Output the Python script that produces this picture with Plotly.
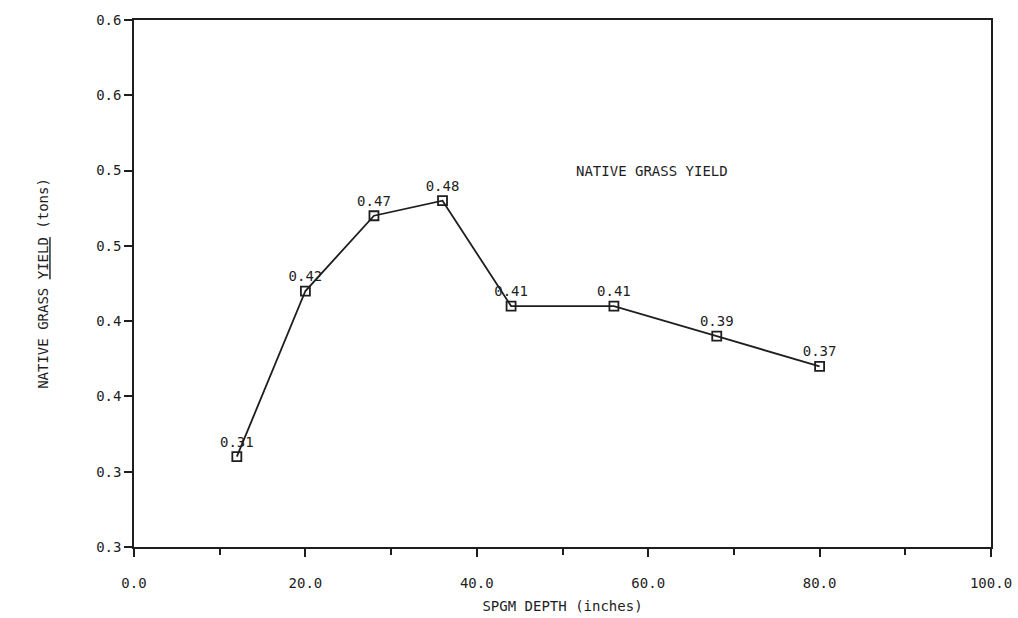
import plotly.graph_objects as go

depth = [12, 20, 28, 36, 44, 56, 68, 80]
yield_tons = [0.31, 0.42, 0.47, 0.48, 0.41, 0.41, 0.39, 0.37]
y_tickvals = [0.25, 0.30, 0.35, 0.40, 0.45, 0.50, 0.55, 0.60]
y_ticktext = ["0.3", "0.3", "0.4", "0.4", "0.5", "0.5", "0.6", "0.6"]
x_tickvals = [0, 20, 40, 60, 80, 100]
x_ticktext = ["0.0", "20.0", "40.0", "60.0", "80.0", "100.0"]

font_family = "DejaVu Sans Mono"
ink = "#1e1e1e"

fig = go.Figure()
fig.add_trace(go.Scatter(
    x=depth, y=yield_tons,
    mode="lines+markers+text",
    line=dict(color=ink, width=1.8),
    marker=dict(symbol="square-open", size=9, color=ink, line=dict(width=1.8, color=ink)),
    text=[f"{v:.2f}" for v in yield_tons],
    textposition="top center",
    textfont=dict(family=font_family, size=14, color=ink),
    cliponaxis=False,
    showlegend=False,
))

fig.add_annotation(
    x=60.5, y=0.50, xref="x", yref="y",
    text="NATIVE GRASS YIELD", showarrow=False,
    font=dict(family=font_family, size=14, color=ink),
)

fig.update_layout(
    width=1018, height=618,
    margin=dict(l=134, r=27, t=20, b=71),
    paper_bgcolor="white", plot_bgcolor="white",
    font=dict(family=font_family, color=ink),
)
fig.update_xaxes(
    range=[0, 100], tickvals=x_tickvals, ticktext=x_ticktext,
    automargin=False,
    ticks="outside", ticklen=8, tickwidth=1.5, tickcolor=ink,
    minor=dict(tickvals=[10, 30, 50, 70, 90], ticks="outside", ticklen=6, tickwidth=1.5, tickcolor=ink),
    showline=True, linecolor=ink, linewidth=1.5, mirror=True,
    showgrid=False, zeroline=False,
    ticklabelstandoff=14,
    tickfont=dict(family=font_family, size=14, color=ink),
    title=dict(text="SPGM DEPTH (inches)", font=dict(family=font_family, size=14, color=ink), standoff=12),
)
fig.update_yaxes(
    range=[0.25, 0.60], tickvals=y_tickvals, ticktext=y_ticktext,
    automargin=False,
    ticks="outside", ticklen=8, tickwidth=1.5, tickcolor=ink,
    showline=True, linecolor=ink, linewidth=1.5, mirror=True,
    showgrid=False, zeroline=False,
    tickfont=dict(family=font_family, size=14, color=ink),
    title=dict(text="NATIVE GRASS <u>YIELD</u> (tons)", font=dict(family=font_family, size=14, color=ink), standoff=44),
)

fig.write_html(
    "out.html",
    config={"displayModeBar": False},
    post_script="document.body.style.margin='0';document.body.style.overflow='hidden';",
)
